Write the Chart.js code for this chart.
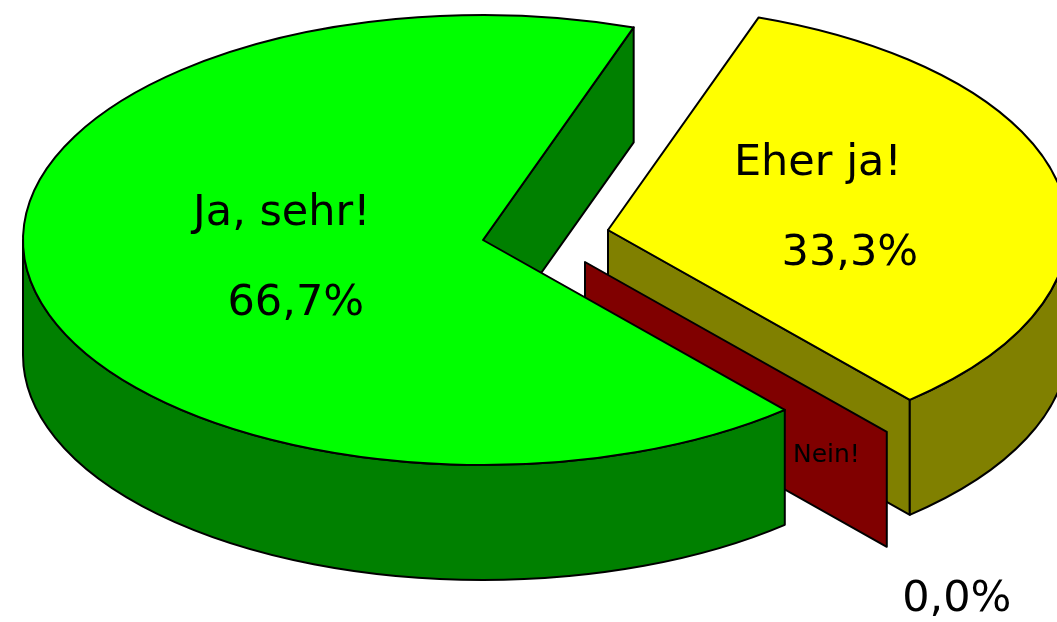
<!DOCTYPE html>
<html>
<head>
<meta charset="utf-8">
<script src="https://cdn.jsdelivr.net/npm/chart.js@4.4.1/dist/chart.umd.min.js"></script>
<style>
  html, body { margin: 0; padding: 0; background: #fff; }
  #wrap { width: 1057px; height: 622px; position: relative; }
</style>
</head>
<body>
<div id="wrap"><canvas id="pie-chart"></canvas></div>
<script>
// answers and their shares (percent)
const categories = ['Ja, sehr!', 'Eher ja!', 'Nein!'];
const shares = [66.7, 33.3, 0.0];
const shareLabels = ['66,7%', '33,3%', '0,0%'];

const topColors = ['#00ff00', '#ffff00', '#800000'];
const sideColors = ['#008000', '#808000', '#800000'];

// draws the pie as a tilted 3D disc, using the angles Chart.js computed
const pie3d = {
    id: 'pie3d',
    beforeDatasetsDraw(chart, args, opts) {
        const ctx = chart.ctx;
        const area = chart.chartArea;
        const arcs = chart.getDatasetMeta(0).data;
        const rx = (area.right - area.left) / 2;
        const depth = opts.depth;

        ctx.save();
        ctx.lineWidth = 2;
        ctx.lineJoin = 'round';
        ctx.strokeStyle = '#000';

        const geo = arcs.map(function(arc, i) {
            const p = arc.getProps(['x', 'y', 'startAngle', 'endAngle', 'outerRadius'], true);
            return {
                cx: p.x + opts.shifts[i][0],
                cy: p.y + opts.shifts[i][1],
                ry: p.outerRadius,
                a: p.startAngle,
                b: p.endAngle
            };
        });

        function face(g, t, color) {
            const ex = g.cx + rx * Math.cos(t), ey = g.cy + g.ry * Math.sin(t);
            ctx.beginPath();
            ctx.moveTo(g.cx, g.cy);
            ctx.lineTo(ex, ey);
            ctx.lineTo(ex, ey + depth);
            ctx.lineTo(g.cx, g.cy + depth);
            ctx.closePath();
            ctx.fillStyle = color;
            ctx.fill();
            ctx.stroke();
        }

        opts.order.forEach(function(i) {
            const g = geo[i];
            if (g.b - g.a < 1e-6) {
                face(g, g.a, sideColors[i]);
                return;
            }
            if (Math.cos(g.a) < 0) face(g, g.a, sideColors[i]);
            if (Math.cos(g.b) > 0) face(g, g.b, sideColors[i]);

            // front part of the rim
            [-2 * Math.PI, 0, 2 * Math.PI].forEach(function(base) {
                const lo = Math.max(g.a, base), hi = Math.min(g.b, base + Math.PI);
                if (hi <= lo) return;
                ctx.beginPath();
                ctx.moveTo(g.cx + rx * Math.cos(lo), g.cy + g.ry * Math.sin(lo));
                ctx.ellipse(g.cx, g.cy, rx, g.ry, 0, lo, hi, false);
                ctx.lineTo(g.cx + rx * Math.cos(hi), g.cy + g.ry * Math.sin(hi) + depth);
                ctx.ellipse(g.cx, g.cy + depth, rx, g.ry, 0, hi, lo, true);
                ctx.closePath();
                ctx.fillStyle = sideColors[i];
                ctx.fill();
                ctx.stroke();
            });

            // top
            ctx.beginPath();
            ctx.moveTo(g.cx, g.cy);
            ctx.ellipse(g.cx, g.cy, rx, g.ry, 0, g.a, g.b, false);
            ctx.closePath();
            ctx.fillStyle = topColors[i];
            ctx.fill();
            ctx.stroke();
        });

        // data labels
        ctx.fillStyle = '#000';
        ctx.textAlign = 'center';
        ctx.textBaseline = 'middle';
        geo.forEach(function(g, i) {
            if (g.b - g.a < 1e-6) {
                const t = g.a;
                ctx.font = '25px "DejaVu Sans"';
                ctx.fillText(categories[i],
                    g.cx + 0.8 * rx * Math.cos(t),
                    g.cy + 0.8 * g.ry * Math.sin(t) + depth / 2);
                ctx.font = '43px "DejaVu Sans"';
                ctx.fillText(shareLabels[i],
                    g.cx + rx * Math.cos(t) + 70,
                    g.cy + g.ry * Math.sin(t) + depth + 53);
                return;
            }
            const m = (g.a + g.b) / 2;
            const f = opts.labelRadius[i];
            const lx = g.cx + f * rx * Math.cos(m);
            const ly = g.cy + f * g.ry * Math.sin(m);
            const sh = opts.lineShift[i];
            ctx.font = '43px "DejaVu Sans"';
            ctx.fillText(categories[i], lx - sh, ly - 45);
            ctx.fillText(shareLabels[i], lx + sh, ly + 45);
        });

        ctx.restore();
        return false;
    }
};

const ctx = document.getElementById('pie-chart').getContext('2d');

const myChart = new Chart(ctx, {
    type: 'pie',
    data: {
        labels: categories,
        datasets: [{
            data: shares,
            backgroundColor: topColors,
            borderColor: '#000',
            borderWidth: 2
        }]
    },
    options: {
        responsive: true,
        maintainAspectRatio: false,
        animation: false,
        events: [],
        rotation: 139,
        layout: {
            padding: { left: 23, right: 114, top: 14, bottom: 156 }
        },
        plugins: {
            legend: { display: false },
            tooltip: { enabled: false },
            pie3d: {
                depth: 115,
                order: [1, 2, 0],
                shifts: [[0, 0], [125, -10], [102, 22]],
                labelRadius: [0.43, 0.5, 0],
                lineShift: [7, 16, 0]
            }
        }
    },
    plugins: [pie3d]
});
</script>
</body>
</html>
